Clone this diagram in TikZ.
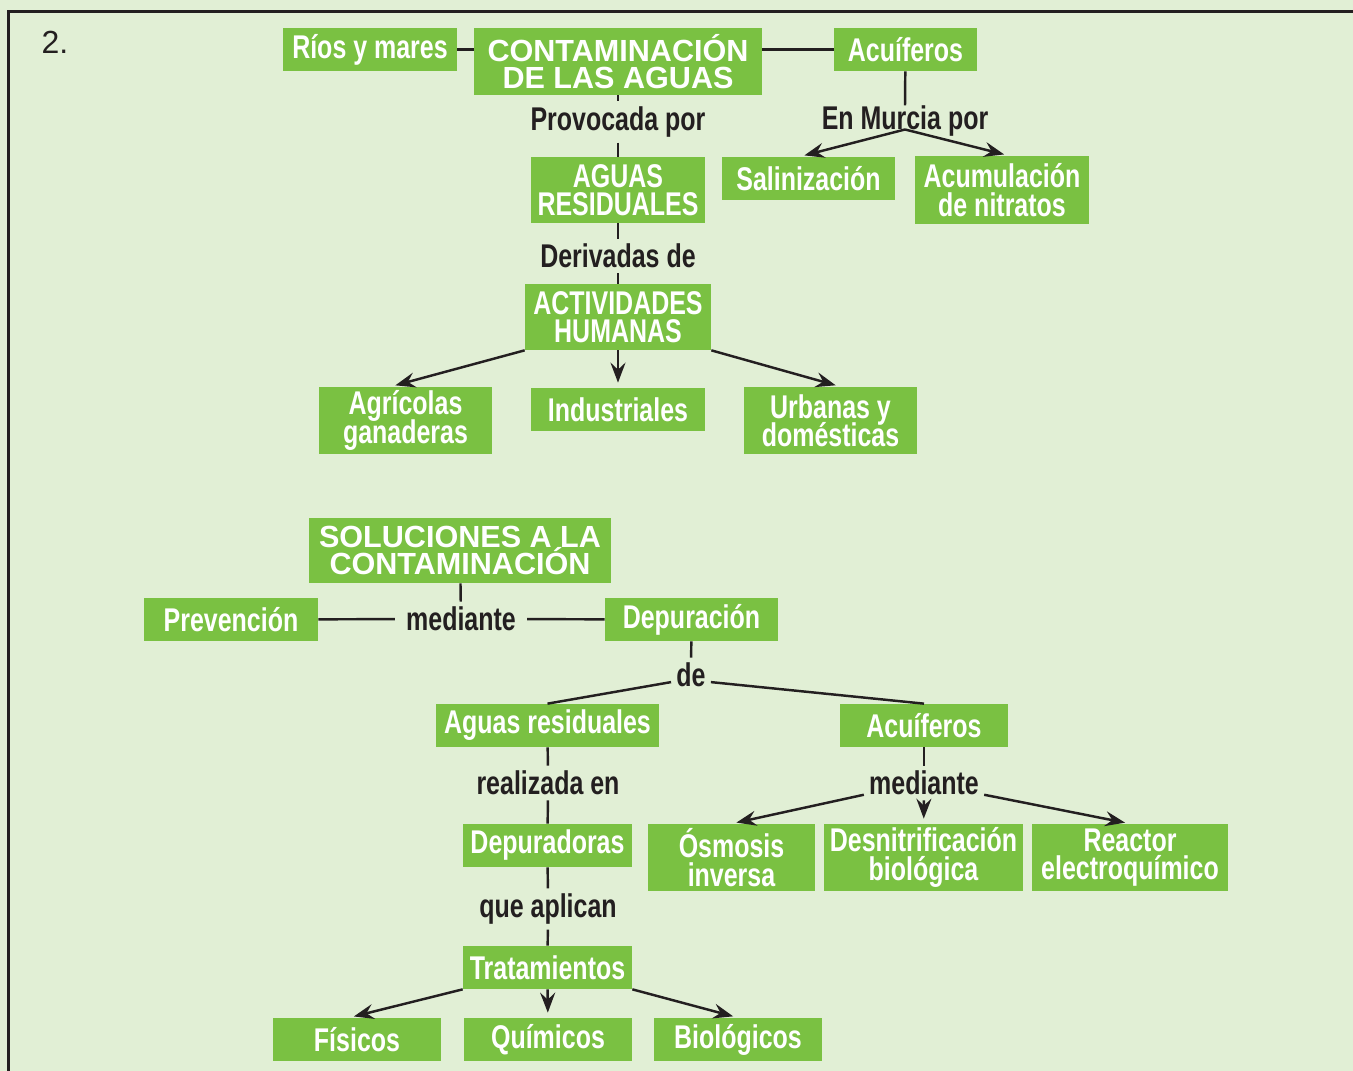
\documentclass[tikz,border=0pt]{standalone}
\usepackage{fontspec}
\setmainfont{Liberation Sans}
\newfontfamily\condfont[FakeStretch=0.76]{Liberation Sans}
\usepackage{tikz}
\usetikzlibrary{arrows.meta,positioning}
\usepackage{xcolor}
\definecolor{bgleaf}{RGB}{225,239,213}
\definecolor{boxgreen}{RGB}{122,193,66}
\definecolor{inkblack}{RGB}{35,31,32}
\newcommand{\tightlines}{\setlength{\lineskiplimit}{-100pt}}

\begin{document}
\begin{tikzpicture}[x=0.02cm, y=-0.02cm,
    box/.style={rectangle, fill=boxgreen, text=white, inner sep=0pt, minimum width=3.48cm, minimum height=0.86cm, align=center, font=\condfont\bfseries\fontsize{18.7pt}{16.2pt}\selectfont\tightlines},
    tallbox/.style={box, minimum height=1.34cm},
    titlebox/.style={tallbox, font=\bfseries\fontsize{17.4pt}{15.8pt}\selectfont\tightlines},
    word/.style={text=inkblack, inner sep=0.1cm, font=\condfont\bfseries\fontsize{18.7pt}{16.2pt}\selectfont},
    link/.style={inkblack, line width=1.4pt},
    arrow/.style={link, -{Stealth[length=4mm, width=3mm, inset=1.4mm]}, shorten >=0.1cm}
]

% Page and frame
\fill[bgleaf] (0,0) rectangle (1353,1071);
\useasboundingbox (0,0) rectangle (1353,1071);
\draw[inkblack, line width=1.5pt] (1353,11.3) -- (8.7,11.3) -- (8.7,1071);
\node[text=inkblack, font=\fontsize{18.2pt}{18.2pt}\selectfont] (num) at (55,42) {2.};

% Causes
\node[titlebox, minimum width=5.76cm] (cont) at (618,61.5) {CONTAMINACIÓN\\DE LAS AGUAS};
\node[box] (rios) at (370,49.5) {Ríos y mares};
\node[box, minimum width=2.86cm] (acuif) at (905.5,49.5) {Acuíferos};
\node[word] (provoc) at (618,122) {Provocada por};
\node[tallbox, minimum height=1.32cm] (aguas) at (618,190) {AGUAS\\RESIDUALES};
\node[word, inner sep=0pt] (murcia) at (905,121) {En Murcia por};
\node[box, minimum width=3.46cm] (salin) at (808.5,178.5) {Salinización};
\node[tallbox, minimum height=1.36cm] (nitr) at (1002,190) {Acumulación\\de nitratos};
\node[word] (deriv) at (618,256) {Derivadas de};
\node[tallbox, minimum width=3.72cm, minimum height=1.32cm] (activ) at (618,317) {ACTIVIDADES\\HUMANAS};
\node[tallbox, minimum width=3.46cm] (agri) at (405.5,420.5) {Agrícolas\\ganaderas};
\node[box] (indus) at (618,409.5) {Industriales};
\node[tallbox, minimum width=3.46cm] (urban) at (830.5,420.5) {Urbanas y\\domésticas};

\draw[link] (rios.east) -- (rios.east -| cont.west);
\draw[link] (acuif.west) -- (acuif.west -| cont.east);
\draw[link] (cont) -- (provoc);
\draw[link] (provoc) -- (aguas);
\draw[link] (acuif) -- (murcia.north);
\draw[arrow] (murcia.base) -- ([xshift=-0.18cm]salin.north);
\draw[arrow] (murcia.base) -- ([xshift=0.14cm]nitr.north);
\draw[link] (aguas) -- (deriv);
\draw[link] (deriv) -- (activ);
\draw[arrow] (activ.south west) -- ([xshift=-0.3cm]agri.north);
\draw[arrow] (activ) -- (indus);
\draw[arrow] (activ.south east) -- ([xshift=0.2cm]urban.north);

% Solutions
\node[titlebox, minimum width=6.04cm, minimum height=1.3cm] (sol) at (460,550.5) {SOLUCIONES A LA\\CONTAMINACIÓN};
\node[box] (prev) at (231,619.5) {Prevención};
\node[word, inner xsep=0.22cm] (via) at (461,619) {mediante};
\node[box, minimum width=3.46cm] (depur) at (691.5,619.5) {Depuración};
\node[word] (de) at (691,675) {de};
\node[box, minimum width=4.46cm] (resid) at (547.5,725.5) {Aguas residuales};
\node[box, minimum width=3.36cm] (acuif2) at (924,725.5) {Acuíferos};
\node[word] (realiz) at (548,783) {realizada en};
\node[word] (via2) at (924,783) {mediante};
\node[box, minimum width=3.38cm] (plants) at (547.5,845.5) {Depuradoras};
\node[tallbox, minimum width=3.34cm] (osmo) at (731.5,857.5) {Ósmosis\\inversa};
\node[tallbox, minimum width=3.98cm] (desn) at (923.5,857.5) {Desnitrificación\\biológica};
\node[tallbox, minimum width=3.92cm] (react) at (1130,857.5) {Reactor\\electroquímico};
\node[word] (aplic) at (548,909) {que aplican};
\node[box, minimum width=3.38cm] (trat) at (547.5,967.5) {Tratamientos};
\node[box, minimum width=3.36cm] (fis) at (357,1039.5) {Físicos};
\node[box, minimum width=3.36cm] (quim) at (548,1039.5) {Químicos};
\node[box, minimum width=3.36cm] (bio) at (738,1039.5) {Biológicos};

\draw[link] (sol) -- (via);
\draw[link] (prev) -- (via);
\draw[link] (via) -- (depur);
\draw[link] (depur) -- (de);
\draw[link] (de.mid west) -- (resid.north);
\draw[link] (de.mid east) -- (acuif2.north);
\draw[link] (resid) -- (realiz);
\draw[link] (realiz) -- (plants);
\draw[link] (acuif2) -- (via2);
\draw[arrow] (via2.base west) -- (osmo.north);
\draw[arrow] (via2) -- (desn);
\draw[arrow] (via2.base east) -- (react.north);
\draw[link] (plants) -- (aplic);
\draw[link] (aplic) -- (trat);
\draw[arrow] (trat.south west) -- ([xshift=-0.16cm]fis.north);
\draw[arrow] (trat) -- (quim);
\draw[arrow] (trat.south east) -- (bio.north);

\end{tikzpicture}
\end{document}
